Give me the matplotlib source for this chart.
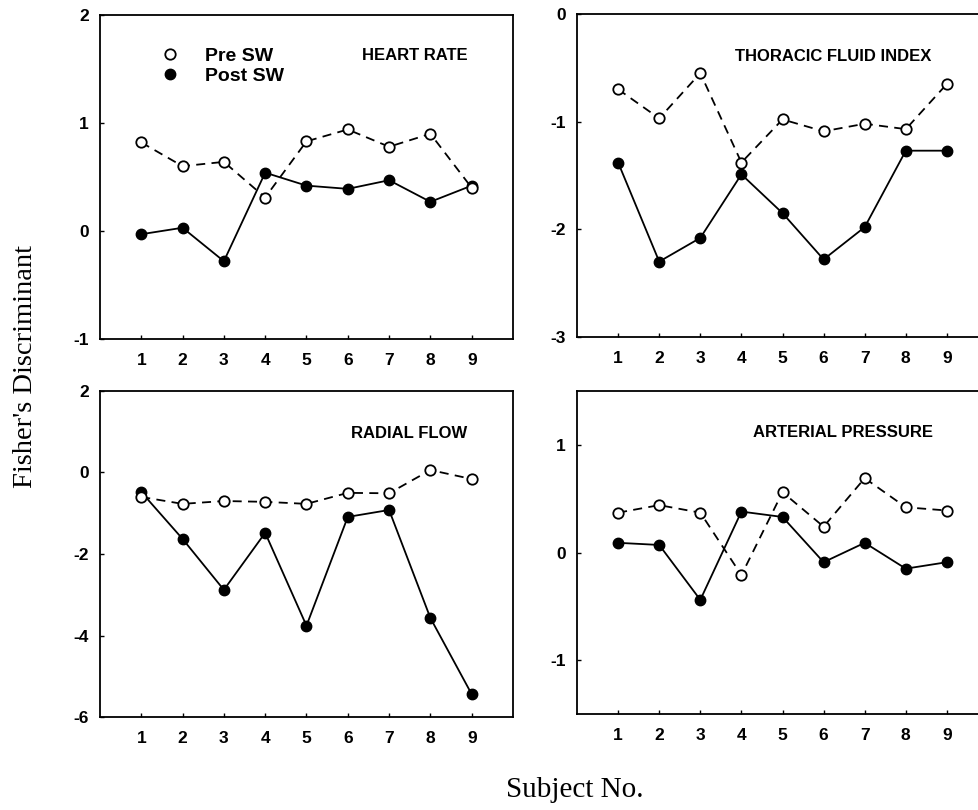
import matplotlib
matplotlib.use("Agg")
import matplotlib.pyplot as plt
from matplotlib.lines import Line2D

plt.rcParams['font.family'] = 'Liberation Sans'
plt.rcParams['axes.unicode_minus'] = False

subjects = [1, 2, 3, 4, 5, 6, 7, 8, 9]

# Fisher's discriminant values
hr_pre = [0.82, 0.60, 0.64, 0.31, 0.83, 0.94, 0.78, 0.90, 0.40]
hr_post = [-0.03, 0.03, -0.28, 0.54, 0.42, 0.39, 0.47, 0.27, 0.42]

tfi_pre = [-0.70, -0.97, -0.55, -1.38, -0.98, -1.09, -1.02, -1.07, -0.65]
tfi_post = [-1.38, -2.30, -2.08, -1.49, -1.85, -2.28, -1.98, -1.27, -1.27]

rf_pre = [-0.60, -0.77, -0.70, -0.72, -0.77, -0.50, -0.51, 0.06, -0.16]
rf_post = [-0.48, -1.63, -2.88, -1.48, -3.76, -1.09, -0.92, -3.57, -5.44]

ap_pre = [0.37, 0.44, 0.37, -0.21, 0.56, 0.24, 0.69, 0.42, 0.39]
ap_post = [0.09, 0.07, -0.44, 0.38, 0.33, -0.09, 0.09, -0.15, -0.09]

panels = [
    ("HEART RATE", hr_pre, hr_post, (-1, 2), [-1, 0, 1, 2],
     [0.1021, 0.5815, 0.4219, 0.4000], (0.89, 0.876)),
    ("THORACIC FLUID INDEX", tfi_pre, tfi_post, (-3, 0), [-3, -2, -1, 0],
     [0.5894, 0.5840, 0.4198, 0.3988], (0.861, 0.867)),
    ("RADIAL FLOW", rf_pre, rf_post, (-6, 2), [-6, -4, -2, 0, 2],
     [0.1021, 0.1148, 0.4219, 0.4025], (0.89, 0.871)),
    ("ARTERIAL PRESSURE", ap_pre, ap_post, (-1.5, 1.5), [-1, 0, 1],
     [0.5894, 0.1185, 0.4198, 0.3988], (0.866, 0.873)),
]

fig = plt.figure(figsize=(9.79, 8.1), dpi=100, facecolor='white')

axes = []
for title, pre, post, ylim, yticks, rect, tpos in panels:
    ax = fig.add_axes(rect)
    ax.plot(subjects, post, color='black', lw=1.3, marker='o', ms=7.5,
            mfc='black', mec='black', zorder=2)
    ax.plot(subjects, pre, color='black', lw=1.3, ls=(0, (5, 3.5)), marker='o',
            ms=7.5, mfc='white', mec='black', mew=1.3, zorder=3)
    ax.set_xlim(0, 10)
    ax.set_ylim(*ylim)
    ax.set_xticks(subjects)
    ax.set_yticks(yticks)
    ax.set_yticklabels([str(t) for t in yticks])
    ax.tick_params(direction='in', length=3, width=1, labelsize=12.5, pad=10)
    ax.tick_params(axis='y', pad=8)
    for lab in ax.get_xticklabels() + ax.get_yticklabels():
        lab.set_fontweight('bold')
    for sp in ax.spines.values():
        sp.set_linewidth(1.3)
    ax.text(tpos[0], tpos[1], title, transform=ax.transAxes, ha='right',
            va='center', fontsize=12, fontweight='bold')
    axes.append(ax)

# legend in the heart rate panel
handles = [
    Line2D([], [], ls='none', marker='o', ms=7.5, mfc='white', mec='black', mew=1.3),
    Line2D([], [], ls='none', marker='o', ms=7.5, mfc='black', mec='black'),
]
axes[0].legend(handles, ['Pre SW', 'Post SW'], loc='upper left',
               bbox_to_anchor=(0.145, 0.90), frameon=False,
               prop={'size': 14, 'weight': 'bold'},
               handlelength=1.0, handletextpad=1.3, labelspacing=0.1,
               borderpad=0, borderaxespad=0)

fig.text(0.026, 0.548, "Fisher's Discriminant", rotation=90, ha='center',
         va='center', fontsize=20.5, family='Liberation Serif')
fig.text(0.587, 0.025, "Subject No.", ha='center', va='center',
         fontsize=21, family='Liberation Serif')

fig.savefig('out.png', dpi=100, facecolor='white')
